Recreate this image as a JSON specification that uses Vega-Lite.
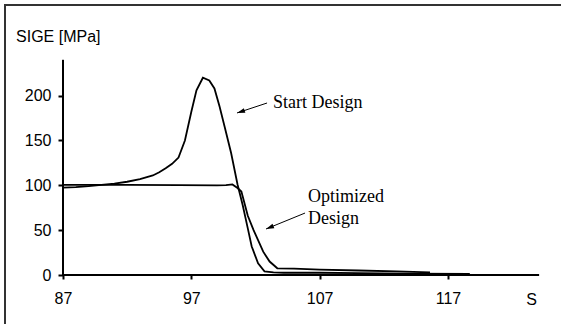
{
  "$schema": "https://vega.github.io/schema/vega-lite/v6.json",
  "width": 561,
  "height": 324,
  "autosize": {"type": "none"},
  "padding": {"left": 5, "top": 5, "right": 0, "bottom": 0},
  "config": {
    "view": {"stroke": "#333333", "strokeWidth": 2},
    "axis": {
      "labelFont": "Liberation Sans",
      "labelFontSize": 16,
      "labelColor": "black",
      "titleFont": "Liberation Sans",
      "titleFontSize": 16,
      "titleFontWeight": "normal",
      "titleColor": "black",
      "titleLimit": 300,
      "tickColor": "black",
      "tickWidth": 2,
      "grid": false,
      "domain": false
    }
  },
  "datasets": {
    "curves": [
      {"design": "Start Design", "s": 87, "v": 97.5},
      {"design": "Start Design", "s": 88, "v": 98},
      {"design": "Start Design", "s": 89, "v": 99},
      {"design": "Start Design", "s": 90, "v": 100.5},
      {"design": "Start Design", "s": 91, "v": 102},
      {"design": "Start Design", "s": 92, "v": 104},
      {"design": "Start Design", "s": 93, "v": 107},
      {"design": "Start Design", "s": 94, "v": 111},
      {"design": "Start Design", "s": 94.5, "v": 114.5},
      {"design": "Start Design", "s": 95, "v": 119},
      {"design": "Start Design", "s": 95.5, "v": 124},
      {"design": "Start Design", "s": 96, "v": 131},
      {"design": "Start Design", "s": 96.5, "v": 150},
      {"design": "Start Design", "s": 97, "v": 182},
      {"design": "Start Design", "s": 97.4, "v": 206},
      {"design": "Start Design", "s": 97.9, "v": 220},
      {"design": "Start Design", "s": 98.4, "v": 217},
      {"design": "Start Design", "s": 98.8, "v": 208},
      {"design": "Start Design", "s": 99.2, "v": 188},
      {"design": "Start Design", "s": 99.6, "v": 165},
      {"design": "Start Design", "s": 100.1, "v": 136},
      {"design": "Start Design", "s": 100.6, "v": 101},
      {"design": "Start Design", "s": 101.0, "v": 78},
      {"design": "Start Design", "s": 101.4, "v": 52},
      {"design": "Start Design", "s": 101.7, "v": 32},
      {"design": "Start Design", "s": 102.2, "v": 13},
      {"design": "Start Design", "s": 102.7, "v": 4},
      {"design": "Start Design", "s": 103.4, "v": 3},
      {"design": "Start Design", "s": 104.2, "v": 2.5},
      {"design": "Start Design", "s": 107, "v": 2.5},
      {"design": "Start Design", "s": 110, "v": 2},
      {"design": "Start Design", "s": 114, "v": 1.5},
      {"design": "Start Design", "s": 118.7, "v": 1.2},
      {"design": "Optimized Design", "s": 87, "v": 100.5},
      {"design": "Optimized Design", "s": 92, "v": 100.5},
      {"design": "Optimized Design", "s": 96, "v": 100.3},
      {"design": "Optimized Design", "s": 99, "v": 100},
      {"design": "Optimized Design", "s": 99.7, "v": 100.2},
      {"design": "Optimized Design", "s": 100.2, "v": 101},
      {"design": "Optimized Design", "s": 100.6, "v": 97},
      {"design": "Optimized Design", "s": 100.9, "v": 93},
      {"design": "Optimized Design", "s": 101.4, "v": 66},
      {"design": "Optimized Design", "s": 101.85, "v": 50},
      {"design": "Optimized Design", "s": 102.2, "v": 39},
      {"design": "Optimized Design", "s": 102.6, "v": 26},
      {"design": "Optimized Design", "s": 103.1, "v": 15},
      {"design": "Optimized Design", "s": 103.7, "v": 7.5},
      {"design": "Optimized Design", "s": 105, "v": 7},
      {"design": "Optimized Design", "s": 107, "v": 6},
      {"design": "Optimized Design", "s": 110, "v": 5},
      {"design": "Optimized Design", "s": 113, "v": 4},
      {"design": "Optimized Design", "s": 115.6, "v": 3}
    ],
    "notes": [
      {"label": "Start Design", "s": 103.36, "v": 185.9, "tailS": 102.9, "tailV": 191.8, "headS": 100.56, "headV": 180.7},
      {"label": "Optimized\nDesign", "s": 106.09, "v": 81.1, "tailS": 105.86, "tailV": 69.1, "headS": 102.82, "headV": 51.3}
    ]
  },
  "layer": [
    {
      "data": {"name": "curves"},
      "mark": {"type": "line", "color": "black", "strokeWidth": 1.8},
      "encoding": {
        "x": {
          "field": "s",
          "type": "quantitative",
          "scale": {"domain": [82.4805, 126.1948], "nice": false, "zero": false},
          "axis": {
            "orient": "bottom",
            "offset": -54,
            "values": [87, 97, 107, 117],
            "tickSize": 4,
            "labelPadding": 11,
            "title": "S",
            "titleX": 526,
            "titleY": 24,
            "titleAlign": "center",
            "titleBaseline": "middle"
          }
        },
        "y": {
          "field": "v",
          "type": "quantitative",
          "scale": {"domain": [-60.22, 301.1], "nice": false, "zero": false},
          "axis": {
            "orient": "left",
            "offset": -58,
            "values": [0, 50, 100, 150, 200],
            "tickSize": 5,
            "labelPadding": 7,
            "title": null
          }
        },
        "detail": {"field": "design"}
      }
    },
    {
      "data": {"values": [{"unit": "SIGE [MPa]"}]},
      "mark": {"type": "text", "font": "Liberation Sans", "fontSize": 16, "color": "black", "align": "left", "baseline": "middle"},
      "encoding": {
        "x": {"datum": 83.34, "type": "quantitative"},
        "y": {"datum": 265.8, "type": "quantitative"},
        "text": {"field": "unit"}
      }
    },
    {
      "data": {"values": [{}]},
      "mark": {"type": "rule", "color": "black", "strokeWidth": 2},
      "encoding": {
        "x": {"datum": 87, "type": "quantitative"},
        "y": {"datum": 0, "type": "quantitative"},
        "y2": {"datum": 240}
      }
    },
    {
      "data": {"values": [{}]},
      "mark": {"type": "rule", "color": "black", "strokeWidth": 2},
      "encoding": {
        "x": {"datum": 87, "type": "quantitative"},
        "x2": {"datum": 124.1},
        "y": {"datum": 0, "type": "quantitative"}
      }
    },
    {
      "data": {"name": "notes"},
      "mark": {"type": "rule", "color": "black", "strokeWidth": 1},
      "encoding": {
        "x": {"field": "tailS", "type": "quantitative"},
        "y": {"field": "tailV", "type": "quantitative"},
        "x2": {"field": "headS"},
        "y2": {"field": "headV"}
      }
    },
    {
      "data": {"name": "notes"},
      "transform": [{"filter": "datum.label === 'Start Design'"}],
      "mark": {"type": "point", "shape": "M0,0L1.2,4L-1.2,4Z", "filled": true, "color": "black", "opacity": 1, "size": 16, "angle": 251.6},
      "encoding": {
        "x": {"field": "headS", "type": "quantitative"},
        "y": {"field": "headV", "type": "quantitative"}
      }
    },
    {
      "data": {"name": "notes"},
      "transform": [{"filter": "datum.label !== 'Start Design'"}],
      "mark": {"type": "point", "shape": "M0,0L1.2,4L-1.2,4Z", "filled": true, "color": "black", "opacity": 1, "size": 16, "angle": 247.7},
      "encoding": {
        "x": {"field": "headS", "type": "quantitative"},
        "y": {"field": "headV", "type": "quantitative"}
      }
    },
    {
      "data": {"name": "notes"},
      "mark": {"type": "text", "font": "Liberation Serif", "fontSize": 18, "color": "black", "align": "left", "baseline": "alphabetic", "lineBreak": "\n", "lineHeight": 22},
      "encoding": {
        "x": {"field": "s", "type": "quantitative"},
        "y": {"field": "v", "type": "quantitative"},
        "text": {"field": "label"}
      }
    }
  ]
}
